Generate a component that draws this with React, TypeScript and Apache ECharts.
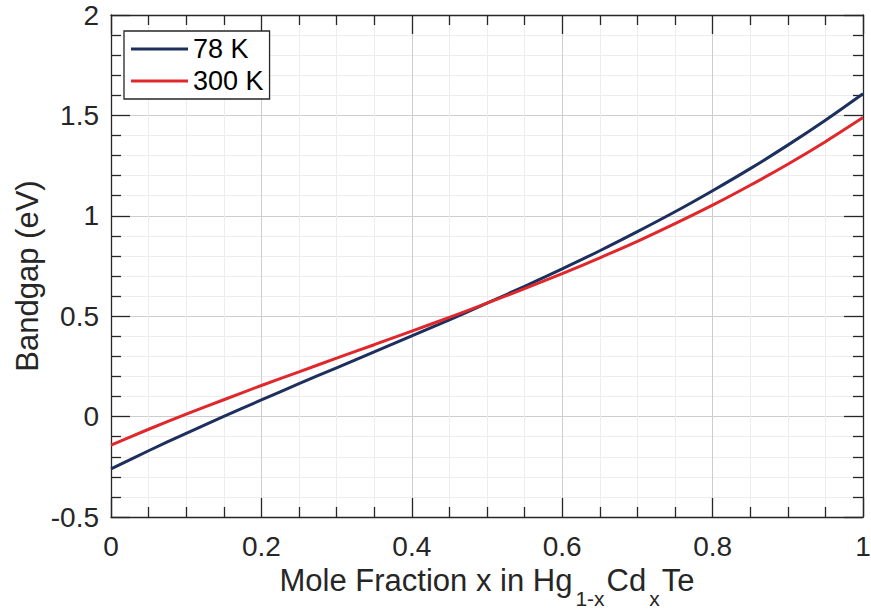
import React, { useEffect, useRef } from "react";
import * as echarts from "echarts";

const moleFraction = [0, 0.05, 0.1, 0.15, 0.2, 0.25, 0.3, 0.35, 0.4, 0.45, 0.5, 0.55, 0.6, 0.65, 0.7, 0.75, 0.8, 0.85, 0.9, 0.95, 1.0];
const gap78K = [-0.26, -0.17, -0.083, 0.001, 0.083, 0.164, 0.243, 0.322, 0.402, 0.482, 0.565, 0.649, 0.736, 0.826, 0.921, 1.02, 1.125, 1.235, 1.352, 1.476, 1.608];
const gap300K = [-0.142, -0.063, 0.012, 0.084, 0.155, 0.223, 0.291, 0.358, 0.426, 0.494, 0.565, 0.637, 0.712, 0.791, 0.873, 0.961, 1.053, 1.152, 1.257, 1.369, 1.489];
const seriesNames = ["78 K", "300 K"];
const xTitle = "{a|Mole Fraction x in Hg}{s|1-x}{a|Cd}{s|x}{a|Te}";
const yTitle = "Bandgap (eV)";

const FONT = "'Liberation Sans', Arial, Helvetica, sans-serif";
const TXT = "#262626";

export default function App() {
  const ref = useRef<HTMLDivElement>(null);
  useEffect(() => {
    if (!ref.current) return;
    const chart = echarts.init(ref.current, undefined, { renderer: "svg" });
    const axisLine = { show: true, onZero: false, lineStyle: { color: TXT, width: 1.3 } };
    const xBase = { type: "value", min: 0, max: 1, interval: 0.2 };
    const yBase = { type: "value", min: -0.5, max: 2, interval: 0.5 };
    const tick = { show: true, inside: true, length: 19, lineStyle: { color: TXT, width: 1.3 } };
    const minorTickX = { show: true, splitNumber: 4, length: 10, lineStyle: { color: TXT, width: 1.3 } };
    const minorTickY = { show: true, splitNumber: 5, length: 10, lineStyle: { color: TXT, width: 1.3 } };
    const toPairs = (ys: number[]) => moleFraction.map((x, i) => [x, ys[i]]);
    chart.setOption({
      animation: false,
      backgroundColor: "#ffffff",
      textStyle: { fontFamily: FONT },
      grid: { left: 111, top: 15, right: 8, bottom: 92, containLabel: false, outerBoundsMode: "none" },
      xAxis: [
        {
          ...xBase,
          position: "bottom",
          axisLine,
          axisTick: tick,
          minorTick: minorTickX,
          splitLine: { show: true, lineStyle: { color: "#cdcdcd", width: 1 } },
          minorSplitLine: { show: true, lineStyle: { color: "#ededed", width: 1 } },
          axisLabel: { color: TXT, fontSize: 28, fontFamily: FONT, margin: 15 },
          name: xTitle,
          nameLocation: "middle",
          nameGap: 46,
          nameTextStyle: {
            color: TXT,
            fontFamily: FONT,
            rich: {
              a: { fontSize: 31, lineHeight: 36, padding: [0, 0, 13, 0], verticalAlign: "bottom", color: TXT, fontFamily: FONT },
              s: { fontSize: 21, lineHeight: 22, padding: [0, 2, 0, 3], verticalAlign: "bottom", color: TXT, fontFamily: FONT },
            },
          },
        },
        {
          ...xBase,
          position: "top",
          axisLine,
          axisTick: tick,
          minorTick: minorTickX,
          splitLine: { show: false },
          axisLabel: { show: false },
        },
      ],
      yAxis: [
        {
          ...yBase,
          position: "left",
          axisLine,
          axisTick: tick,
          minorTick: minorTickY,
          splitLine: { show: true, lineStyle: { color: "#cdcdcd", width: 1 } },
          minorSplitLine: { show: true, lineStyle: { color: "#ededed", width: 1 } },
          axisLabel: { color: TXT, fontSize: 28, fontFamily: FONT, margin: 12 },
        },
        {
          ...yBase,
          position: "right",
          axisLine,
          axisTick: tick,
          minorTick: minorTickY,
          splitLine: { show: false },
          axisLabel: { show: false },
        },
      ],
      legend: {
        orient: "vertical",
        left: 124,
        top: 31,
        data: seriesNames.map((n) => ({ name: n, icon: "rect" })),
        itemWidth: 57,
        itemHeight: 3,
        itemGap: 2,
        padding: [3, 6, 3, 7],
        backgroundColor: "#ffffff",
        borderColor: TXT,
        borderWidth: 1.3,
        borderRadius: 0,
        textStyle: { color: "#000000", fontSize: 27, fontFamily: FONT, lineHeight: 30 },
      },
      graphic: [
        {
          type: "text",
          x: 27,
          y: 276,
          rotation: Math.PI / 2,
          style: {
            text: yTitle,
            fill: TXT,
            font: `31px ${FONT}`,
            align: "center",
            verticalAlign: "middle",
          },
        },
      ],
      series: [
        {
          name: seriesNames[0],
          type: "line",
          data: toPairs(gap78K),
          symbol: "none",
          smooth: 0.3,
          lineStyle: { color: "#1d2f5d", width: 3 },
          itemStyle: { color: "#1d2f5d" },
          z: 3,
        },
        {
          name: seriesNames[1],
          type: "line",
          data: toPairs(gap300K),
          symbol: "none",
          smooth: 0.3,
          lineStyle: { color: "#e0282c", width: 3 },
          itemStyle: { color: "#e0282c" },
          z: 4,
        },
      ],
    });
    return () => chart.dispose();
  }, []);
  return <div ref={ref} style={{ position: "fixed", left: 0, top: 0, width: 871, height: 609 }} />;
}
